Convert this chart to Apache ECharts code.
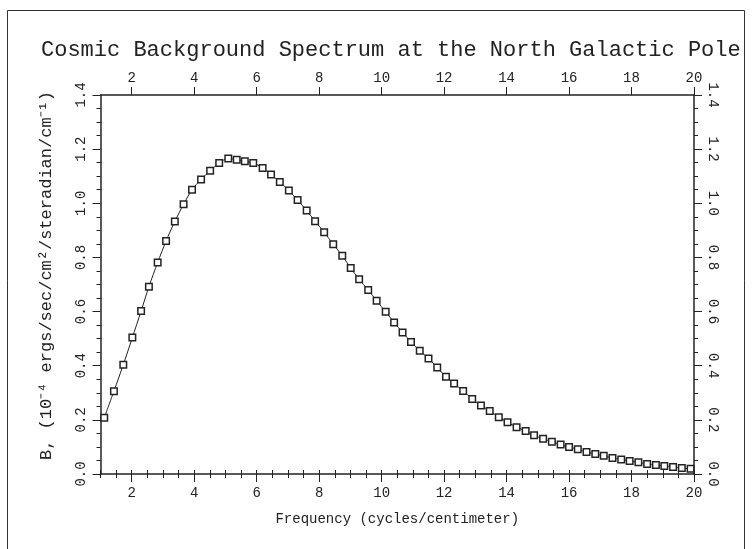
<!DOCTYPE html>
<html>
<head>
<meta charset="utf-8">
<script src="https://cdn.jsdelivr.net/npm/echarts@6/dist/echarts.min.js"></script>
<style>html,body{margin:0;padding:0;background:#fff;}#c{width:752px;height:549px;}</style>
</head>
<body>
<div id="c"></div>
<script>
// Frequency (cycles/centimeter)
const freq = [1.12,1.43,1.73,2.02,2.30,2.55,2.83,3.10,3.38,3.66,3.93,4.22,4.51,4.80,5.09,5.36,5.62,5.89,6.19,6.46,6.74,7.03,7.31,7.60,7.87,8.16,8.45,8.74,9.01,9.28,9.57,9.84,10.13,10.40,10.67,10.94,11.22,11.50,11.78,12.06,12.32,12.61,12.90,13.18,13.46,13.75,14.03,14.32,14.61,14.88,15.17,15.45,15.73,16.00,16.28,16.56,16.84,17.11,17.39,17.67,17.94,18.22,18.50,18.78,19.05,19.33,19.61,19.89];
// Intensity B (1e-4 ergs/sec/cm^2/steradian/cm^-1)
const intensity = [0.208,0.306,0.404,0.504,0.602,0.692,0.781,0.861,0.933,0.996,1.050,1.088,1.120,1.149,1.165,1.161,1.155,1.149,1.130,1.106,1.079,1.047,1.012,0.973,0.934,0.893,0.849,0.806,0.761,0.719,0.680,0.640,0.599,0.560,0.523,0.488,0.455,0.427,0.393,0.359,0.334,0.307,0.277,0.253,0.233,0.210,0.191,0.173,0.159,0.143,0.130,0.119,0.109,0.100,0.091,0.081,0.074,0.067,0.059,0.054,0.048,0.043,0.037,0.033,0.030,0.026,0.022,0.019];
const xTickLabels = [2,4,6,8,10,12,14,16,18,20];
const yTickLabels = [0,0.2,0.4,0.6,0.8,1.0,1.2,1.4];

const FONT = 'Liberation Mono';
const INK = '#222';
const chart = echarts.init(document.getElementById('c'), null, {renderer:'canvas'});

function minorX(pos){
  return {type:'value', position:pos, min:1, max:20, interval:0.5,
    axisLine:{show:false}, splitLine:{show:false},
    axisTick:{show:true, length:4, lineStyle:{color:INK,width:1}},
    axisLabel:{show:false}};
}
function majorX(pos, showName){
  const a = {type:'value', position:pos, min:1, max:20,
    axisLine:{show:true, onZero:false, lineStyle:{color:INK,width:1.5}},
    splitLine:{show:false},
    axisTick:{show:true, length:8, customValues:xTickLabels, lineStyle:{color:INK,width:1}},
    axisLabel:{show:true, customValues:xTickLabels, color:INK, fontFamily:FONT, fontSize:14, margin: pos==='bottom'?12:10}};
  if (showName){
    a.name = 'Frequency (cycles/centimeter)';
    a.nameLocation = 'middle';
    a.nameGap = 38;
    a.nameTextStyle = {color:INK, fontFamily:FONT, fontSize:14};
  }
  return a;
}
function yAx(pos){
  const a = {type:'value', position:pos, min:0, max:1.4, interval:0.2,
    axisLine:{show:true, onZero:false, lineStyle:{color:INK,width:1.5}},
    splitLine:{show:false},
    axisTick:{show:true, length:8, lineStyle:{color:INK,width:1}},
    minorTick:{show:true, splitNumber:4, length:4, lineStyle:{color:INK,width:1}},
    axisLabel:{show:true, rotate: pos==='left'?90:-90, color:INK, fontFamily:FONT, fontSize:14, margin:12,
      formatter:function(v){return v.toFixed(1);}}};
  if (pos==='left'){
    a.name = 'B, (10\u207B\u2074 ergs/sec/cm\u00B2/steradian/cm\u207B\u00B9)';
    a.nameLocation = 'middle';
    a.nameGap = 46;
    a.nameTextStyle = {color:INK, fontFamily:FONT, fontSize:17, padding:[0,0,0,18]};
  }
  return a;
}

const option = {
  backgroundColor:'#fff',
  animation:false,
  title:{text:'Cosmic Background Spectrum at the North Galactic Pole', left:36, top:34,
    textStyle:{color:INK, fontFamily:FONT, fontSize:22, fontWeight:'normal'}},
  grid:{left:100.5, right:58, top:95, bottom:75},
  xAxis:[majorX('bottom',true), minorX('bottom'), majorX('top',false), minorX('top')],
  yAxis:[yAx('left'), yAx('right')],
  graphic:[{type:'rect', shape:{x:7.5,y:10.5,width:737,height:560}, style:{fill:'none', stroke:'#333', lineWidth:1}, silent:true}],
  series:[{
    type:'line', xAxisIndex:0, yAxisIndex:0,
    data: freq.map((f,i)=>[f,intensity[i]]),
    smooth:0.3,
    symbol:'rect', symbolSize:6.5,
    lineStyle:{color:INK, width:1},
    itemStyle:{color:'#fff', borderColor:INK, borderWidth:1.5}
  }]
};
chart.setOption(option);
</script>
</body>
</html>
